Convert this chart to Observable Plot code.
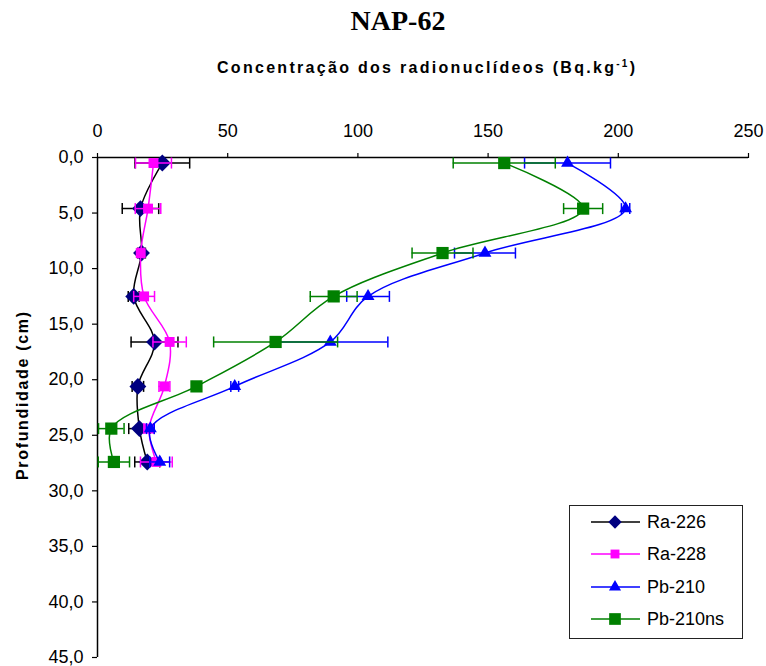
<!DOCTYPE html>
<html>
<head>
<meta charset="utf-8">
<script src="https://cdn.jsdelivr.net/npm/d3@7"></script>
<script src="https://cdn.jsdelivr.net/npm/@observablehq/plot@0.6"></script>
<style>
  html, body { margin: 0; padding: 0; background: #fff; overflow: hidden; }
  #chart { width: 766px; height: 666px; }
</style>
</head>
<body>
<div id="chart"></div>
<script>
// ---- data ----
const depths = [0.5, 4.6, 8.6, 12.5, 16.6, 20.6, 24.4, 27.4];

const ra226 = [24.9, 16.5, 16.9, 13.9, 21.9, 15.5, 16.1, 19.1];
const ra226Err = [10.5, 7.0, 1.5, 2.1, 9.0, 2.2, 4.1, 4.8];

const ra228 = [21.5, 19.4, 16.6, 17.9, 27.7, 25.7, 19.8, 22.6];
const ra228Err = [6.9, 4.9, 1.0, 4.0, 6.4, 2.1, 2.0, 6.1];

const pb210 = [180.5, 202.8, 148.8, 103.9, 89.4, 52.7, 20.3, 23.9];
const pb210Err = [16.5, 1.6, 11.7, 8.2, 22.1, 1.5, 1.5, 3.8];

const pb210ns = [156.2, 186.5, 132.5, 90.7, 68.4, 38.0, 5.3, 6.3];
const pb210nsErr = [19.6, 7.5, 11.7, 9.0, 23.8, 1.5, 4.9, 6.0];

const seriesNames = ["Ra-226", "Ra-228", "Pb-210", "Pb-210ns"];
const xTicks = [0, 50, 100, 150, 200, 250];
const yTicks = [0, 5, 10, 15, 20, 25, 30, 35, 40, 45];

const titleText = "NAP-62";
const xTitle = "Concentração dos radionuclídeos (Bq.kg";
const xTitleSup = "-1";
const yTitle = "Profundidade (cm)";

// ---- styles ----
const styles = {
  "Ra-226":   {line: "#000000", fill: "#000080", symbol: "diamond2", r: 7.6, err: "#000000"},
  "Ra-228":   {line: "#ff00ff", fill: "#ff00ff", symbol: "square",   r: 5.6, err: "#ff00ff"},
  "Pb-210":   {line: "#0000ff", fill: "#0000ff", symbol: "triangle", r: 4.8, err: "#0000ff"},
  "Pb-210ns": {line: "#008000", fill: "#008000", symbol: "square",   r: 6.9, err: "#008000"}
};

const valuesBy = {"Ra-226": ra226, "Ra-228": ra228, "Pb-210": pb210, "Pb-210ns": pb210ns};
const errBy = {"Ra-226": ra226Err, "Ra-228": ra228Err, "Pb-210": pb210Err, "Pb-210ns": pb210nsErr};

const tables = seriesNames.map(name => depths.map((d, i) => ({
  series: name,
  depth: d,
  value: valuesBy[name][i],
  lo: valuesBy[name][i] - errBy[name][i],
  hi: valuesBy[name][i] + errBy[name][i]
})));

// vertical cap symbol for error bars
const capSymbol = {
  draw(ctx, size) {
    const r = Math.sqrt(size / Math.PI);
    ctx.moveTo(0, -r);
    ctx.lineTo(0, r);
  }
};

const seriesMarks = [];
tables.forEach((rows, k) => {
  const s = styles[seriesNames[k]];
  seriesMarks.push(
    Plot.ruleY(rows, {y: "depth", x1: "lo", x2: "hi", stroke: s.err, strokeWidth: 1.5}),
    Plot.dot(rows, {x: "lo", y: "depth", symbol: capSymbol, r: 5.5, fill: "none", stroke: s.err, strokeWidth: 1.5}),
    Plot.dot(rows, {x: "hi", y: "depth", symbol: capSymbol, r: 5.5, fill: "none", stroke: s.err, strokeWidth: 1.5}),
    Plot.line(rows, {x: "value", y: "depth", curve: "catmull-rom", stroke: s.line, strokeWidth: 1.5}),
    Plot.dot(rows, {x: "value", y: "depth", symbol: s.symbol, r: s.r, fill: s.fill, stroke: "none"})
  );
});

const svg = Plot.plot({
  width: 766,
  height: 666,
  marginTop: 157,
  marginLeft: 97,
  marginRight: 18,
  marginBottom: 9,
  style: {fontFamily: "'Liberation Sans', Arial, sans-serif", fontSize: "18px", background: "#fff", color: "#000", overflow: "visible"},
  x: {domain: [0, 250]},
  y: {domain: [0, 45], reverse: true},
  marks: [
    Plot.axisX({anchor: "top", ticks: xTicks, tickSize: 5, tickPadding: 16, label: null, stroke: "#000", strokeWidth: 1.2}),
    Plot.axisY({anchor: "left", ticks: yTicks, tickSize: 5, tickPadding: 9, label: null, stroke: "#000", strokeWidth: 1.2,
      tickFormat: d => d.toFixed(1).replace(".", ",")}),
    Plot.ruleY([0], {stroke: "#000", strokeWidth: 1.5}),
    Plot.ruleX([0], {stroke: "#000", strokeWidth: 1.5}),
    ...seriesMarks
  ]
});

document.getElementById("chart").appendChild(svg);

// ---- titles ----
const root = d3.select(svg);
root.append("text")
  .attr("x", 398).attr("y", 30)
  .attr("text-anchor", "middle")
  .style("font-family", "'Liberation Serif', 'Times New Roman', serif")
  .style("font-weight", "bold")
  .style("font-size", "28px")
  .text(titleText);

const xt = root.append("text")
  .attr("x", 217).attr("y", 73)
  .attr("text-anchor", "start")
  .attr("textLength", 418)
  .attr("lengthAdjust", "spacing")
  .style("font-family", "'Liberation Sans', Arial, sans-serif")
  .style("font-weight", "bold")
  .style("font-size", "16px");
xt.append("tspan").text(xTitle);
xt.append("tspan").attr("dy", -6).style("font-size", "10px").text(xTitleSup);
xt.append("tspan").attr("dy", 6).text(")");

root.append("text")
  .attr("transform", "translate(28,396) rotate(-90)")
  .attr("text-anchor", "middle")
  .attr("textLength", 168)
  .attr("lengthAdjust", "spacing")
  .style("font-family", "'Liberation Sans', Arial, sans-serif")
  .style("font-weight", "bold")
  .style("font-size", "16px")
  .text(yTitle);

// ---- legend ----
const lg = root.append("g");
lg.append("rect")
  .attr("x", 569.5).attr("y", 505.5).attr("width", 173).attr("height", 133)
  .attr("fill", "#fff").attr("stroke", "#222").attr("stroke-width", 1);
const legendY = [522, 554, 587, 619];
const symType = {diamond2: d3.symbolDiamond2, square: d3.symbolSquare, triangle: d3.symbolTriangle};
seriesNames.forEach((name, i) => {
  const s = styles[name];
  const y = legendY[i];
  lg.append("line").attr("x1", 591).attr("x2", 640).attr("y1", y).attr("y2", y)
    .attr("stroke", s.line).attr("stroke-width", 1.5);
  const rr = name === "Pb-210ns" ? 6.6 : (s.symbol === "triangle" ? 4.5 : (s.symbol === "diamond2" ? 6.0 : 5.0));
  lg.append("path")
    .attr("transform", `translate(615,${y})`)
    .attr("d", d3.symbol().type(symType[s.symbol]).size(Math.PI * rr * rr)())
    .attr("fill", s.fill);
  lg.append("text").attr("x", 647).attr("y", y).attr("dy", "0.35em")
    .attr("text-anchor", "start")
    .style("font-family", "'Liberation Sans', Arial, sans-serif")
    .style("font-size", "18px")
    .text(name);
});
</script>
</body>
</html>
